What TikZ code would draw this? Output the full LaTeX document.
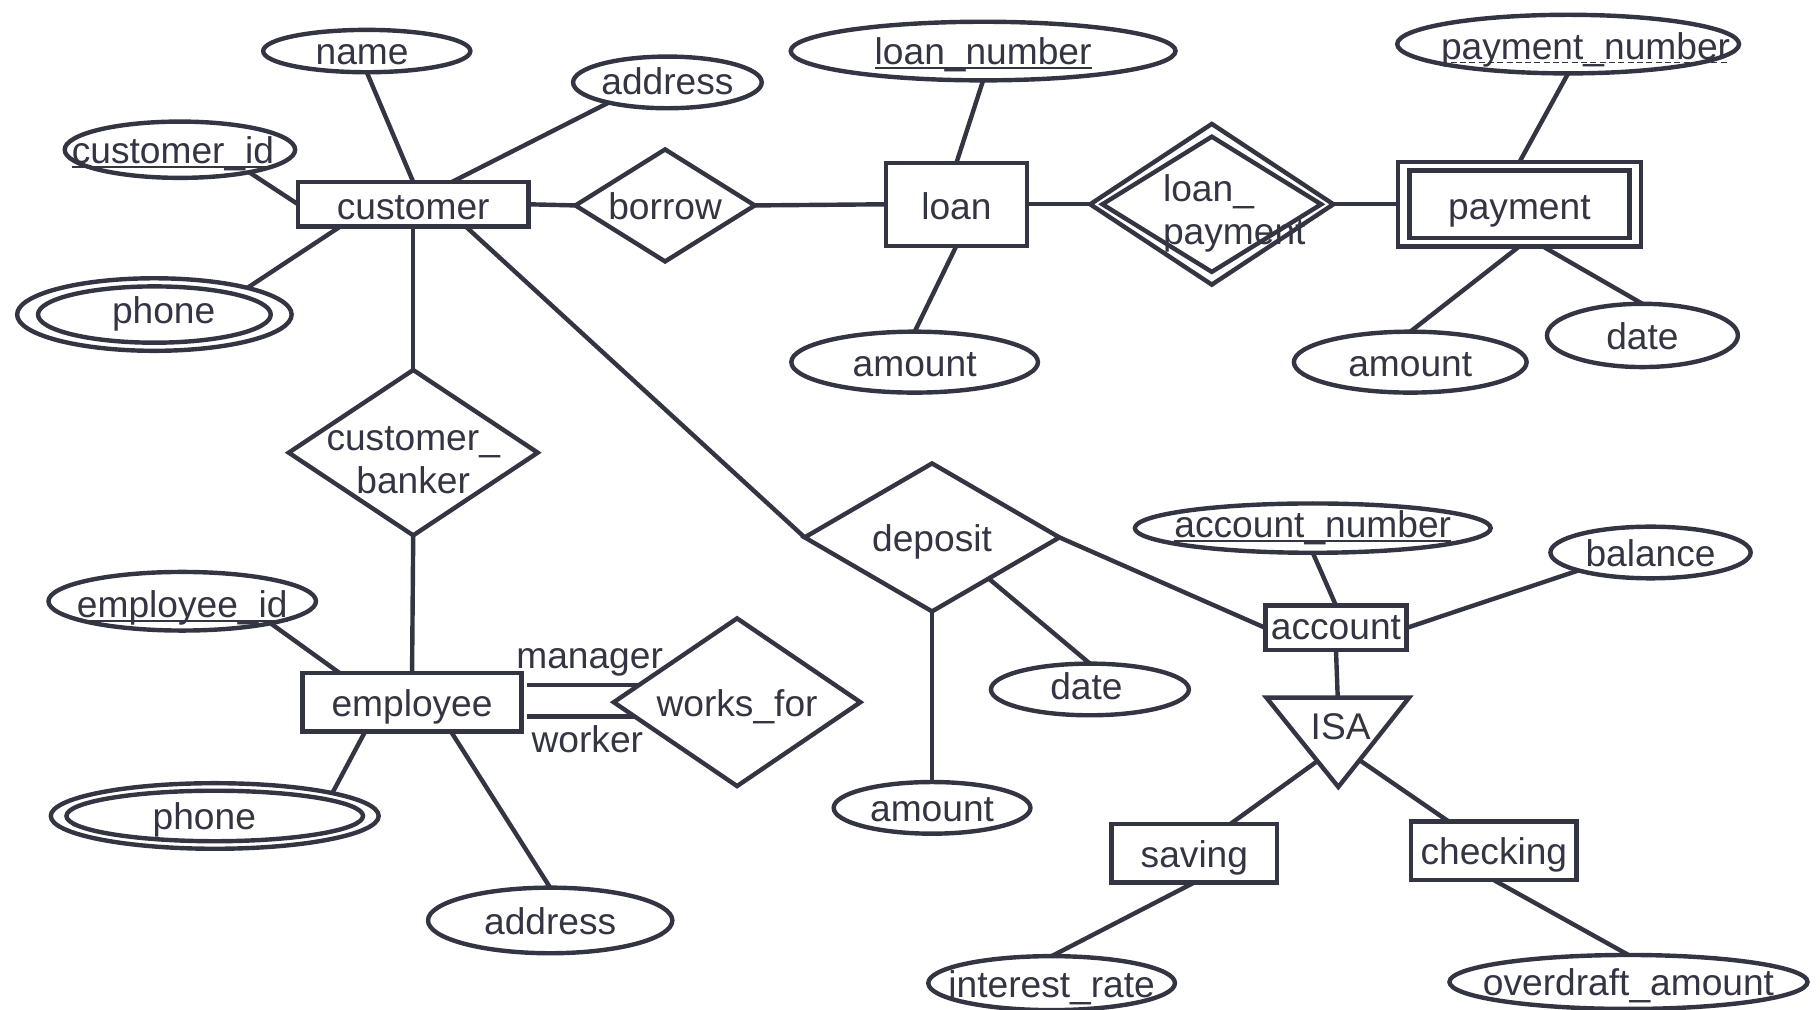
\documentclass[tikz,border=0pt]{standalone}
\usepackage{fontspec}
\setmainfont{Liberation Sans}
\usetikzlibrary{shapes.geometric,calc}
\definecolor{ink}{RGB}{52,53,66}
% solid underline for key attributes, dashed for partial keys
\newcommand\ukey[1]{\setbox0=\hbox{#1}\rlap{\rule[-1.8pt]{\wd0}{0.8pt}}\box0}
\newcommand\pkey[1]{\setbox0=\hbox{#1}\rlap{\hbox to \wd0{\xleaders\hbox{\rule[-1.8pt]{2.6pt}{0.8pt}\hspace{1.3pt}}\hfill}}\box0}
% zero-width centred label, optional horizontal shift
\newcommand\tx[2][0pt]{\makebox[0pt]{\hspace*{#1}\raisebox{-6pt}{#2}\hspace*{-#1}}}
\begin{document}
\begin{tikzpicture}[x=0.5pt,y=-0.5pt,
  color=ink, line width=1.9pt,
  every node/.style={inner sep=0pt, outer sep=0pt, text height=0pt, text depth=0pt,
    font=\fontsize{16}{18.5}\selectfont, text=ink},
  sz/.style 2 args={minimum width={(#1-3.5)*0.5pt}, minimum height={(#2-3.5)*0.5pt}},
  ent/.style={draw, rectangle},
  rel/.style={draw, diamond},
  att/.style={draw, ellipse}]
\useasboundingbox (0,0) rectangle (1568,870);

% entity sets
\node[ent, sz={202}{42}] (cust) at (356,176) {\tx{\raisebox{-0.5pt}{customer}}};
\node[ent, sz={125}{75}] (loan) at (824,176) {\tx{\raisebox{-0.5pt}{loan}}};
\node[ent, sz={213}{76}] (pay) at (1309,176) {\tx{\raisebox{-0.5pt}{payment}}};
\draw ($(pay.north west)+(10,7)$) rectangle ($(pay.south east)+(-10,-7)$);
\node[ent, sz={192}{54}] (emp) at (355,605) {\tx{employee}};
\node[ent, sz={125}{42}] (acc) at (1151,541) {\tx{\raisebox{1pt}{account}}};
\node[ent, sz={146}{54}] (sav) at (1029,735) {\tx{saving}};
\node[ent, sz={146}{54}] (chk) at (1287,733) {\tx{checking}};

% relationship sets
\node[rel, sz={158}{100}] (borrow) at (573,177) {\tx{borrow}};
\node[rel, sz={213}{142}] (lp) at (1044,176) {\makebox[0pt][l]{\hspace*{-21pt}\raisebox{-17.5pt}{\begin{tabular}[b]{@{}l@{}}loan\_\\payment\end{tabular}}}};
\node[rel, sz={192}{120}] (lpin) at (lp) {};
\node[rel, sz={218}{146}] (cb) at (356,390) {\makebox[0pt]{\raisebox{-17.5pt}{\begin{tabular}[b]{@{}c@{}}customer\_\\banker\end{tabular}}}};
\node[rel, sz={223}{131}] (dep) at (803,463) {\tx{deposit}};
\node[rel, sz={216}{148}] (wf) at (635,605) {\tx{works\_for}};

% attributes
\node[att, sz={182}{40}] (name) at (316,44) {\tx[-2pt]{name}};
\node[att, sz={166}{48}] (addr) at (575,71) {\tx{\raisebox{1pt}{address}}};
\node[att, sz={202}{52}] (cid) at (155,129) {\tx[-3pt]{\ukey{customer\_id}}};
\node[att, sz={240}{66}] (phone1) at (133,271) {\tx[4pt]{\raisebox{2pt}{phone}}};
\node[att, sz={204}{52}] (phone1in) at (phone1) {};
\node[att, sz={335}{54}] (lnum) at (847,44) {\tx{\ukey{loan\_number}}};
\node[att, sz={216}{56}] (amt1) at (788,312) {\tx{amount}};
\node[att, sz={298}{54}] (pnum) at (1351,38) {\tx[7.5pt]{\raisebox{-0.5pt}{\pkey{payment\_number}}}};
\node[att, sz={204}{56}] (amt2) at (1215,312) {\tx{amount}};
\node[att, sz={168}{58}] (date1) at (1415,289) {\tx{date}};
\node[att, sz={310}{46}] (acnum) at (1131,455) {\tx{\raisebox{2pt}{\ukey{account\_number}}}};
\node[att, sz={176}{48}] (bal) at (1422,476) {\tx{balance}};
\node[att, sz={174}{48}] (date2) at (939,594) {\tx[-1.5pt]{\raisebox{1.5pt}{date}}};
\node[att, sz={173}{48}] (amt3) at (803,696) {\tx{amount}};
\node[att, sz={216}{50}] (ir) at (906,847) {\tx{interest\_rate}};
\node[att, sz={312}{50}] (od) at (1403,846) {\tx{overdraft\_amount}};
\node[att, sz={234}{54}] (empid) at (157,518) {\tx{\raisebox{-1pt}{\ukey{employee\_id}}}};
\node[att, sz={286}{60}] (phone2) at (185,703) {\tx[-4.5pt]{phone}};
\node[att, sz={259}{47}] (phone2in) at (phone2) {};
\node[att, sz={214}{60}] (addr2) at (474,793) {\tx{address}};

% specialisation triangle
\coordinate (isaL) at (1091,601);
\coordinate (isaR) at (1214,601);
\coordinate (isaB) at (1153,678);
\draw (isaL) -- (isaR) -- (isaB) -- cycle;
\node (isa) at (1155,625) {\tx{ISA}};

% role names
\node (mgr) at (508,564) {\tx{manager}};
\node (wkr) at (506,636) {\tx{worker}};

% connectors
\draw (name.south) -- (cust.north);
\draw (addr.199) -- (cust.30);
\draw (cid.-18) -- (cust.west);
\draw (phone1.16) -- (cust.197);
\draw (cust.east) -- (borrow.west);
\draw (borrow.east) -- (loan.west);
\draw (lnum.south) -- (loan.north);
\draw (loan.south) -- (amt1.north);
\draw (loan.east) -- (lp.west);
\draw (lp.east) -- (pay.west);
\draw (pnum.south) -- (pay.north);
\draw (pay.south) -- (amt2.north);
\draw (pay.-61) -- (date1.north);
\draw (cust.south) -- (cb.north);
\draw (cust.-23) -- (dep.west);
\draw (cb.south) -- (emp.north);
\draw (empid.-14) -- (emp.158);
\draw (phone2.11) -- (emp.212);
\draw (emp.-37) -- (addr2.north);
\draw ([xshift=2.5pt]emp.east |- wf.170) -- (wf.170);
\draw ([xshift=2.5pt]emp.east |- wf.188) -- (wf.188);
\draw (dep.east) -- (acc.west);
\draw (dep.south) -- (amt3.north);
\draw (dep.-36) -- (date2.north);
\draw (acnum.south) -- (acc.north);
\draw (bal.194) -- (acc.east);
\draw (acc.south) -- ($(isaL)!0.5!(isaR)$);
\draw ($(isaL)!0.71!(isaB)$) -- (sav.39);
\draw ($(isaR)!0.7!(isaB)$) -- (chk.147);
\draw (sav.south) -- (ir.north);
\draw (chk.south) -- (od.north);
\end{tikzpicture}
\end{document}
